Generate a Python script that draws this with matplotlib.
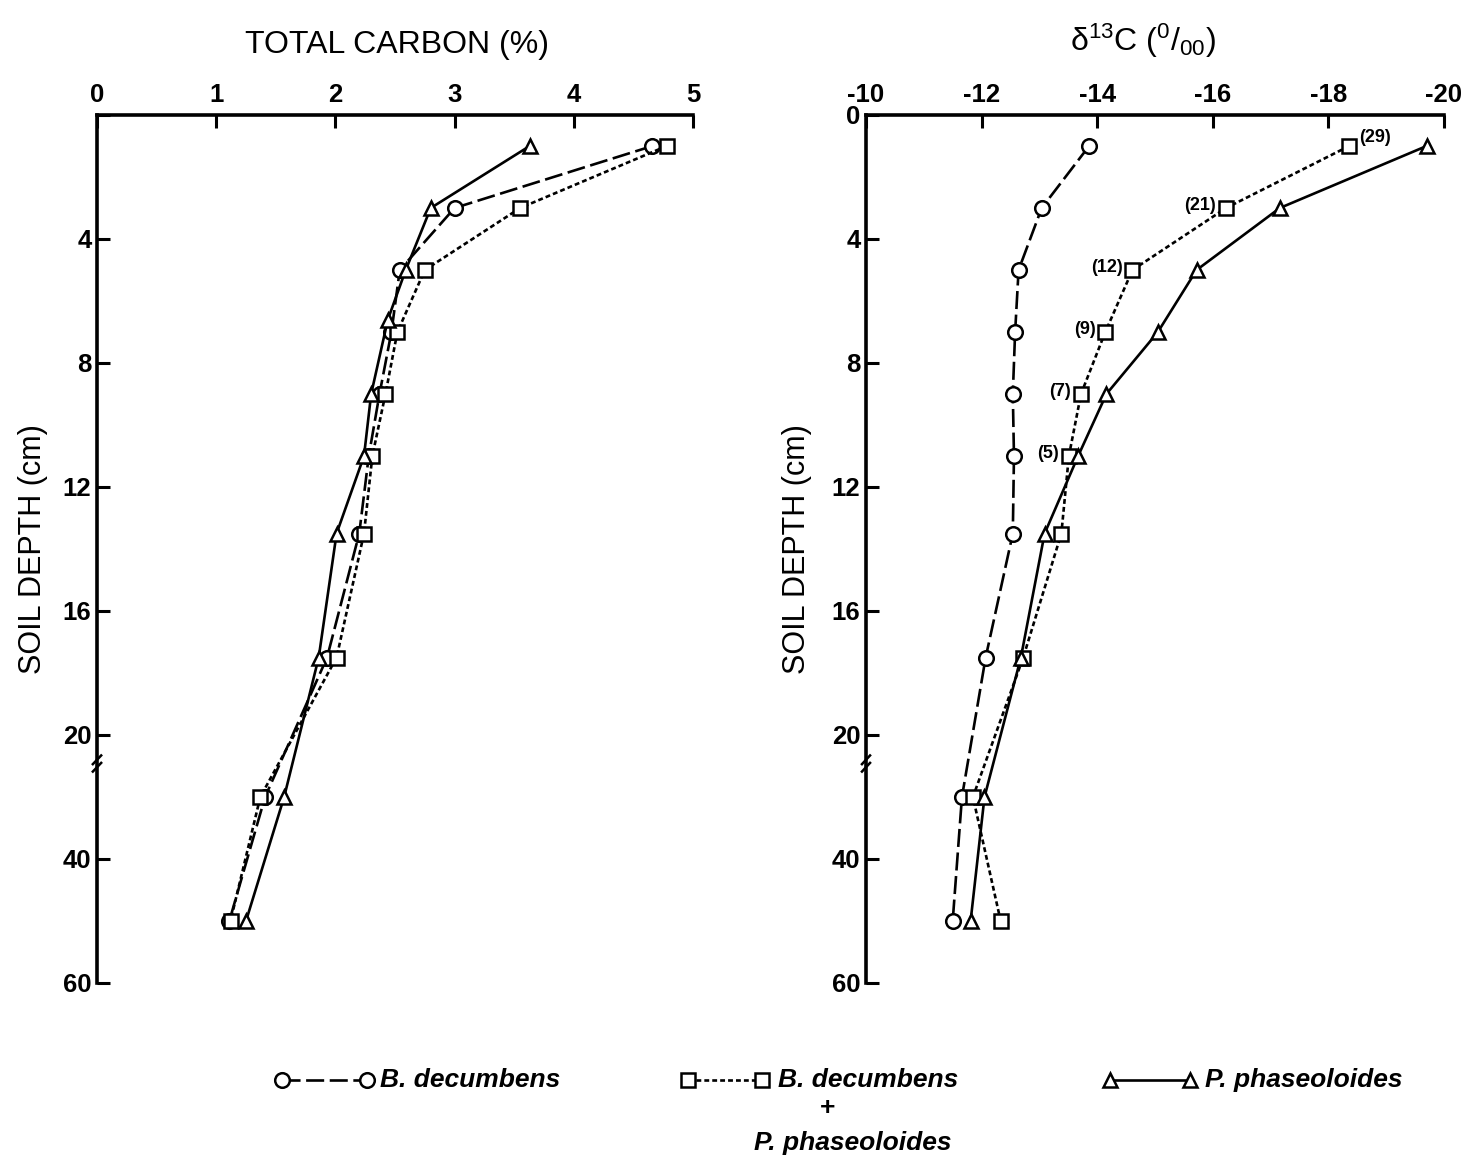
import numpy as np
import matplotlib
matplotlib.use("Agg")
import matplotlib.pyplot as plt
from matplotlib.lines import Line2D

plt.rcParams['font.family'] = ['Liberation Sans', 'DejaVu Sans']
plt.rcParams['mathtext.fontset'] = 'custom'
plt.rcParams['mathtext.rm'] = 'Liberation Sans'
plt.rcParams['mathtext.it'] = 'Liberation Sans:italic'
plt.rcParams['lines.scale_dashes'] = False

# ---------------- data ----------------
depth = [1, 3, 5, 7, 9, 11, 13.5, 17.5, 30, 50]
depth_tri_left = [1, 3, 5, 6.6, 9, 11, 13.5, 17.5, 30, 50]

carbon_bd = [4.66, 3.00, 2.54, 2.47, 2.37, 2.28, 2.20, 1.93, 1.41, 1.11]
carbon_bdpp = [4.78, 3.55, 2.75, 2.52, 2.42, 2.31, 2.24, 2.01, 1.37, 1.12]
carbon_pp = [3.63, 2.80, 2.59, 2.44, 2.30, 2.24, 2.01, 1.86, 1.57, 1.25]

d13c_bd = [-13.86, -13.04, -12.64, -12.58, -12.54, -12.56, -12.54, -12.07, -11.66, -11.50]
d13c_bdpp = [-18.36, -16.23, -14.61, -14.14, -13.72, -13.51, -13.38, -12.72, -11.85, -12.33]
d13c_pp = [-19.70, -17.16, -15.72, -15.05, -14.16, -13.67, -13.09, -12.68, -12.05, -11.81]

bdpp_labels = ['(29)', '(21)', '(12)', '(9)', '(7)', '(5)']

y_ticks = [0, 4, 8, 12, 16, 20, 40, 60]
carbon_ticks = [0, 1, 2, 3, 4, 5]
d13c_ticks = [-10, -12, -14, -16, -18, -20]

legend_labels = ['B. decumbens', 'B. decumbens', 'P. phaseoloides']

# ---------------- style ----------------
LW = 1.9
MS = 10.5
style_bd = dict(color='black', lw=LW, dashes=(13, 4), marker='o', ms=MS,
                mfc='white', mec='black', mew=1.8)
style_bdpp = dict(color='black', lw=LW, dashes=(3.5, 2.2), marker='s', ms=MS - 0.5,
                  mfc='white', mec='black', mew=1.8)
style_pp = dict(color='black', lw=LW, ls='-', marker='^', ms=MS,
                mfc='white', mec='black', mew=1.8)


def fwd(d):
    d = np.asarray(d, dtype=float)
    return np.where(d <= 20, d, 20 + (d - 20) / 5.0)


def inv(p):
    p = np.asarray(p, dtype=float)
    return np.where(p <= 20, p, 20 + (p - 20) * 5.0)


W, H = 1477, 1174
fig = plt.figure(figsize=(W / 100, H / 100), dpi=100)

top_px, bot_px = 115, 983
axL = fig.add_axes([97 / W, 1 - bot_px / H, (693 - 97) / W, (bot_px - top_px) / H])
axR = fig.add_axes([866 / W, 1 - bot_px / H, (1444 - 866) / W, (bot_px - top_px) / H])

for ax in (axL, axR):
    ax.set_yscale('function', functions=(fwd, inv))
    ax.set_ylim(60, 0)
    ax.set_yticks(y_ticks)
    for s in ('right', 'bottom'):
        ax.spines[s].set_visible(False)
    for s in ('left', 'top'):
        ax.spines[s].set_linewidth(2.6)
    ax.xaxis.tick_top()
    ax.tick_params(axis='both', direction='in', length=9, width=2.2,
                   labelsize=18.5, pad=6)
    ax.tick_params(axis='y', pad=4)
    ax.set_ylabel('SOIL DEPTH (cm)', fontsize=22)
    # axis break marks
    for dbreak in (24.0, 25.2):
        ax.plot([-0.007, 0.007], [dbreak + 0.7, dbreak - 0.7],
                transform=ax.get_yaxis_transform(), color='black', lw=1.8,
                clip_on=False)

# left panel
axL.set_xlim(0, 5)
axL.set_xticks(carbon_ticks)
axL.set_yticklabels([''] + [str(t) for t in y_ticks[1:]])
axL.plot(carbon_bd, depth, **style_bd, zorder=3)
axL.plot(carbon_bdpp, depth, **style_bdpp, zorder=3)
axL.plot(carbon_pp, depth_tri_left, **style_pp, zorder=4)
axL.yaxis.set_label_coords(-0.083, 0.5)
axL.text(0.503, 1.081, 'TOTAL CARBON (%)', transform=axL.transAxes,
         ha='center', va='center', fontsize=23)

# right panel
axR.set_xlim(-10, -20)
axR.set_xticks(d13c_ticks)
axR.set_xticklabels([str(t) for t in d13c_ticks])
axR.plot(d13c_bd, depth, **style_bd, zorder=3)
axR.plot(d13c_bdpp, depth, **style_bdpp, zorder=3)
axR.plot(d13c_pp, depth, **style_pp, zorder=4)
axR.yaxis.set_label_coords(-0.093, 0.5)
axR.text(0.479, 1.086, 'δ$^{13}$C ($^{0}$/$_{00}$)', transform=axR.transAxes,
         ha='center', va='center', fontsize=23)

for ax in (axL, axR):
    for lab in ax.get_xticklabels() + ax.get_yticklabels():
        lab.set_fontweight('bold')

for i, lab in enumerate(bdpp_labels):
    if i == 0:
        axR.annotate(lab, (d13c_bdpp[i], depth[i]), xytext=(7, 6),
                     textcoords='offset points', ha='left', va='center',
                     fontsize=13, fontweight='bold')
    else:
        axR.annotate(lab, (d13c_bdpp[i], depth[i]), xytext=(-7, 2),
                     textcoords='offset points', ha='right', va='center',
                     fontsize=13, fontweight='bold')

# ---------------- legend ----------------
ly = 1 - 1080 / H
entries = [
    (style_bd, 282, 367, 380),
    (style_bdpp, 688, 762, 778),
    (style_pp, 1110, 1190, 1205),
]
for (st, x0, x1, xt), lab in zip(entries, legend_labels):
    fig.add_artist(Line2D([x0 / W, x1 / W], [ly, ly], transform=fig.transFigure, **st))
    fig.text(xt / W, ly, lab, ha='left', va='center', fontsize=19,
             style='italic', fontweight='bold')
fig.text(828 / W, 1 - 1108 / H, '+', ha='center', va='center', fontsize=19,
         fontweight='bold')
fig.text(853 / W, 1 - 1143 / H, 'P. phaseoloides', ha='center', va='center',
         fontsize=19, style='italic', fontweight='bold')

fig.savefig('out.png', dpi=100, facecolor='white')
